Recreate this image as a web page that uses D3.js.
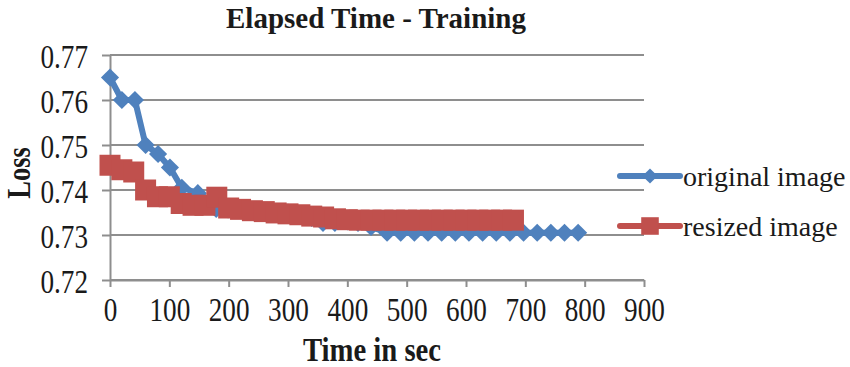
<!DOCTYPE html>
<html>
<head>
<meta charset="utf-8">
<script src="https://cdn.jsdelivr.net/npm/d3@7"></script>
<style>
	body { margin:0; background:#fff; }
	text { font-family:"Liberation Serif","DejaVu Serif",serif; fill:#1a1a1a; }
</style>
</head>
<body>
<div id="idChart"></div>
<script>
// values
var aBlueTime=[0,20,42,60,81,101,121,148,160,179,199,220,240,260,281,300,320,340,359,379,400,418,440,
	467,490,513,536,559,582,605,628,651,674,697,720,743,766,789];
var aBlueLoss=[0.765,0.760,0.760,0.750,0.748,0.745,0.7405,0.7393,0.7372,0.7358,0.7357,0.7355,0.7353,0.7352,0.7351,0.7350,0.7345,0.7338,0.7327,0.7327,0.7330,0.7327,0.7318,
	0.7305,0.7305,0.7305,0.7305,0.7305,0.7305,0.7305,0.7305,0.7305,0.7305,0.7305,0.7305,0.7305,0.7305,0.7305];

var aRedTime=[0,20,40,60,80,100,120,140,160,180,200,220,240,260,280,300,320,340,360,380,400,
	420,440,460,480,500,520,540,560,580,600,620,640,660,680];
var aRedLoss=[0.7455,0.7445,0.7440,0.7400,0.7385,0.7385,0.7370,0.7366,0.7366,0.7384,0.7360,0.7357,0.7354,0.7352,0.7349,0.7347,0.7345,0.7342,0.7340,0.7336,0.7334,
	0.7333,0.7333,0.7333,0.7333,0.7333,0.7333,0.7333,0.7333,0.7333,0.7333,0.7333,0.7333,0.7333,0.7333];

var aSeriesNames=["original image","resized image"];
var aXTicks=[0,100,200,300,400,500,600,700,800,900];
var aYTicks=[0.72,0.73,0.74,0.75,0.76,0.77];

var sTitle="Elapsed Time - Training";
var sXTitle="Time in sec";
var sYTitle="Loss";

var sBlue="#4f81bd";
var sRed="#c0504d";
var sGrid="#8e8e8e";

var iWidth=850, iHeight=367;
var iLeft=110, iRight=644, iTop=55, iBottom=280;

// squeeze text horizontally to mimic the narrow serif of the source
function fSqueeze(mySel, fK)
{
	mySel.each(function(){
		var iLen=this.getComputedTextLength();
		d3.select(this).attr("textLength", iLen*fK).attr("lengthAdjust","spacingAndGlyphs");
	});
}

var mySvg=d3.select("#idChart").append("svg")
	.attr("width",iWidth)
	.attr("height",iHeight);

var xScale=d3.scaleLinear().domain([0,900]).range([iLeft,iRight]);
var yScale=d3.scaleLinear().domain([0.72,0.77]).range([iBottom,iTop]);

// grid
mySvg.append("g").selectAll("line")
	.data(aYTicks).enter().append("line")
		.attr("x1",iLeft).attr("x2",iRight)
		.attr("y1",function(d){return yScale(d);})
		.attr("y2",function(d){return yScale(d);})
		.attr("stroke",sGrid).attr("stroke-width",2);

var gY=mySvg.append("g")
	.attr("transform","translate("+iLeft+",0)")
	.call(d3.axisLeft(yScale).tickValues(aYTicks).tickFormat(d3.format(".2f")).tickSizeInner(8).tickSizeOuter(0).tickPadding(14));
var gX=mySvg.append("g")
	.attr("transform","translate(0,"+iBottom+")")
	.call(d3.axisBottom(xScale).tickValues(aXTicks).tickFormat(d3.format("d")).tickSizeInner(7).tickSizeOuter(0).tickPadding(10));

[gY,gX].forEach(function(g){
	g.select(".domain").attr("stroke",sGrid).attr("stroke-width",2);
	g.selectAll(".tick line").attr("stroke",sGrid).attr("stroke-width",2);
	g.selectAll(".tick text").attr("font-family","Liberation Serif").attr("font-size",34).attr("fill","#1a1a1a");
});
gY.selectAll(".tick text").attr("dy","0.36em");
gX.selectAll(".tick text").attr("dy","0.72em");
fSqueeze(gY.selectAll(".tick text"),0.8);
fSqueeze(gX.selectAll(".tick text"),0.8);

// series
var aSeries=[
	{name:aSeriesNames[0], color:sBlue, shape:d3.symbolDiamond2, size:210, pts:aBlueTime.map(function(t,i){return [t,aBlueLoss[i]];})},
	{name:aSeriesNames[1], color:sRed, shape:d3.symbolSquare, size:441, pts:aRedTime.map(function(t,i){return [t,aRedLoss[i]];})}
];

var myLine=d3.line()
	.x(function(p){return xScale(p[0]);})
	.y(function(p){return yScale(p[1]);});

aSeries.forEach(function(s){
	var g=mySvg.append("g");
	g.append("path")
		.attr("d",myLine(s.pts))
		.attr("fill","none")
		.attr("stroke",s.color)
		.attr("stroke-width",6)
		.attr("stroke-linejoin","round");
	g.selectAll("path.mark")
		.data(s.pts).enter().append("path")
			.attr("class","mark")
			.attr("d",d3.symbol().type(s.shape).size(s.size))
			.attr("transform",function(p){return "translate("+xScale(p[0])+","+yScale(p[1])+")";})
			.attr("fill",s.color);
});

// legend
var myLegend=mySvg.append("g").selectAll("g")
	.data(aSeries).enter().append("g")
		.attr("transform",function(s,i){return "translate(620,"+(176+i*50)+")";});
myLegend.append("line")
	.attr("x1",0).attr("x2",60)
	.attr("stroke",function(s){return s.color;})
	.attr("stroke-width",6)
	.attr("stroke-linecap","round");
myLegend.append("path")
	.attr("transform","translate(30,0)")
	.attr("d",function(s){return d3.symbol().type(s.shape).size(s.size*0.7)();})
	.attr("fill",function(s){return s.color;});
myLegend.append("text")
	.attr("x",63).attr("y",10)
	.attr("font-size",28)
	.text(function(s){return s.name;});

// titles
mySvg.append("text")
	.attr("x",376).attr("y",28)
	.attr("text-anchor","middle")
	.attr("font-size",29).attr("font-weight","bold")
	.text(sTitle);

var tX=mySvg.append("text")
	.attr("x",372).attr("y",361)
	.attr("text-anchor","middle")
	.attr("font-size",33).attr("font-weight","bold")
	.text(sXTitle);
fSqueeze(tX,0.87);

var tY=mySvg.append("text")
	.attr("transform","translate(30,173) rotate(-90)")
	.attr("text-anchor","middle")
	.attr("font-size",33).attr("font-weight","bold")
	.text(sYTitle);
fSqueeze(tY,0.8);
</script>
</body>
</html>
